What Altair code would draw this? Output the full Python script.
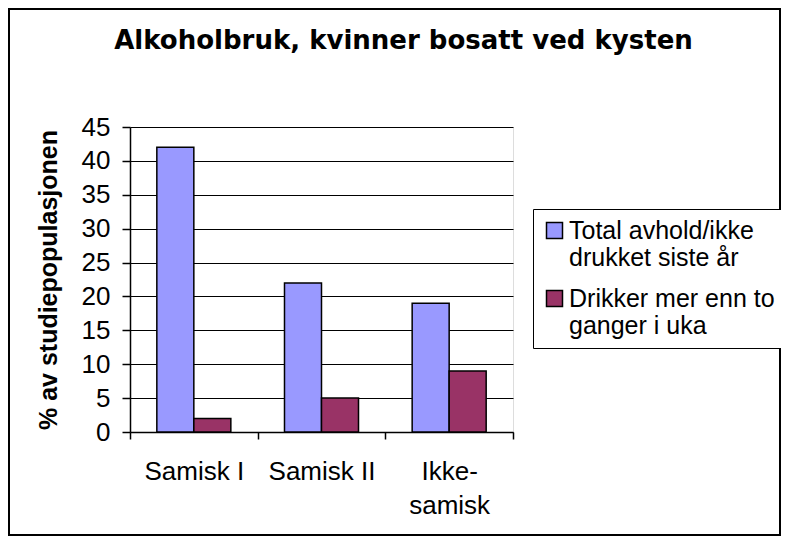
import altair as alt
import pandas as pd

categories = ["Samisk I", "Samisk II", "Ikke-samisk"]
series = ["Total avhold/ikke drukket siste år", "Drikker mer enn to ganger i uka"]
total_avhold = [42, 22, 19]
drikker_ofte = [2, 5, 9]
colors = ["#9999FF", "#993366"]
y_ticks = [0, 5, 10, 15, 20, 25, 30, 35, 40, 45]

rows = []
for c, v in zip(categories, total_avhold):
    rows.append({"Kategori": c, "Serie": series[0], "Verdi": v})
for c, v in zip(categories, drikker_ofte):
    rows.append({"Kategori": c, "Serie": series[1], "Verdi": v})
df = pd.DataFrame(rows)

W, H = 383, 305
PL, PT, PR, PB = 122, 119, 268, 104

label_font = "Liberation Sans"

bars = alt.Chart(df).mark_bar(stroke="black", strokeWidth=1.5).encode(
    x=alt.X(
        "Kategori:N",
        sort=categories,
        scale=alt.Scale(paddingInner=0, paddingOuter=0),
        axis=alt.Axis(
            title=None,
            labelAngle=0,
            labelFont=label_font,
            labelFontSize=26,
            labelColor="black",
            labelPadding=19,
            labelLineHeight=34,
            labelBaseline="top",
            labelExpr="datum.label == 'Ikke-samisk' ? ['Ikke-', 'samisk'] : datum.label",
            tickBand="extent",
            tickSize=7,
            tickColor="black",
            tickWidth=1.5,
            domainColor="black",
            domainWidth=1.5,
            grid=False,
        ),
    ),
    xOffset=alt.XOffset(
        "Serie:N", sort=series, scale=alt.Scale(paddingInner=0, paddingOuter=0.725)
    ),
    y=alt.Y(
        "Verdi:Q",
        scale=alt.Scale(domain=[0, 45], nice=False),
        axis=alt.Axis(
            title="% av studiepopulasjonen",
            titleFont=label_font,
            titleFontSize=25,
            titleFontWeight="bold",
            titleColor="black",
            titleAngle=270,
            titleX=-74,
            titleY=H / 2,
            titleAlign="center",
            titleBaseline="alphabetic",
            values=y_ticks,
            labelFont=label_font,
            labelFontSize=26,
            labelColor="black",
            labelPadding=12,
            tickSize=8,
            tickColor="black",
            tickWidth=1.5,
            domainColor="black",
            domainWidth=1.5,
            grid=True,
            gridColor="black",
            gridWidth=1.2,
        ),
    ),
    color=alt.Color(
        "Serie:N",
        sort=series,
        scale=alt.Scale(domain=series, range=colors),
        legend=alt.Legend(
            title=None,
            orient="none",
            legendX=403,
            legendY=82,
            strokeColor="black",
            fillColor="white",
            padding=9,
            symbolType="square",
            symbolSize=256,
            symbolStrokeColor="black",
            symbolStrokeWidth=1.5,
            symbolOpacity=1,
            labelFont=label_font,
            labelFontSize=25,
            labelColor="black",
            labelLimit=400,
            labelOffset=2,
            rowPadding=15,
            labelExpr="datum.label == 'Total avhold/ikke drukket siste år' ? ['Total avhold/ikke', 'drukket siste år'] : ['Drikker mer enn to', 'ganger i uka']",
        ),
    ),
)

frame = alt.Chart(alt.Data(values=[{"f": 1}])).mark_rect(
    filled=False, stroke="black", strokeWidth=2
).encode(
    x=alt.value(-PL + 1),
    x2=alt.value(W + PR - 1),
    y=alt.value(-PT + 1),
    y2=alt.value(H + PB - 1),
)

chart = alt.layer(frame, bars).properties(
    width=W,
    height=H,
    autosize=alt.AutoSizeParams(type="none"),
    padding={"left": PL, "top": PT, "right": PR, "bottom": PB},
    title=alt.TitleParams(
        "Alkoholbruk, kvinner bosatt ved kysten",
        font="DejaVu Sans",
        fontSize=26,
        fontWeight="bold",
        color="black",
        anchor="middle",
        dx=82,
        dy=67,
        offset=0,
        baseline="alphabetic",
    ),
).configure_view(
    fill="#C0C0C0", stroke="#808080", strokeWidth=1.5
).configure(background="white")

chart.save("out.html", embed_options={"renderer": "svg", "actions": False})
